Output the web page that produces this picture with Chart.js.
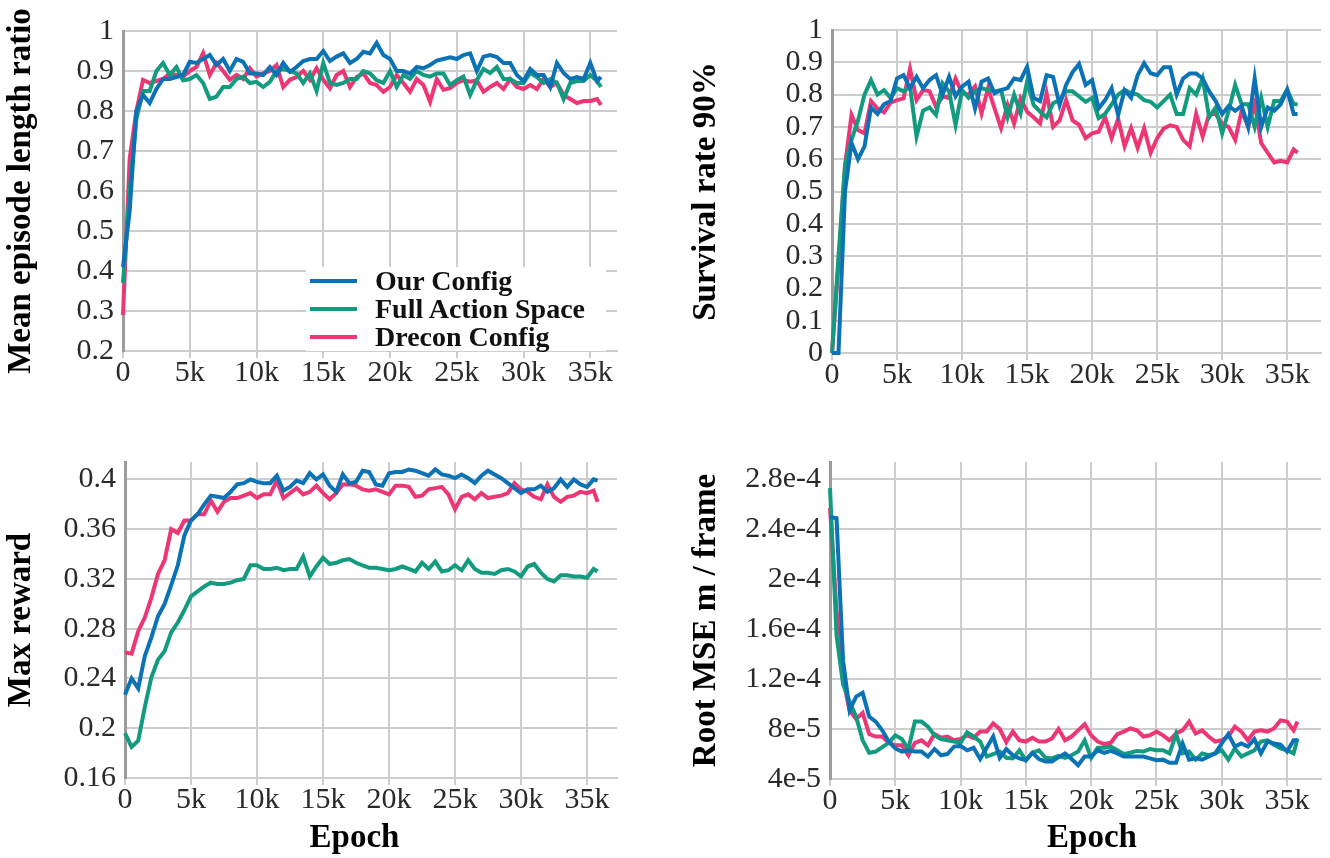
<!DOCTYPE html>
<html lang="en">
<head>
    <meta charset="UTF-8">
    <title>Training curves</title>
    <script src="https://cdn.jsdelivr.net/npm/chart.js"></script>
    <style>
        body {
            margin: 0;
            background: #fff;
        }
        #wrap {
            position: relative;
            width: 1330px;
            height: 858px;
        }
        canvas {
            position: absolute;
        }
        #legend {
            position: absolute;
            left: 306px;
            top: 267px;
            width: 300px;
            height: 84px;
            background: #fff;
            font: bold 28px 'Liberation Serif', serif;
            color: #111;
        }
        .row {
            height: 28px;
            display: flex;
            align-items: center;
        }
        .swatch {
            display: inline-block;
            width: 47px;
            height: 4px;
            margin: 0 18px 0 4px;
        }
    </style>
</head>
<body>
<div id="wrap">
    <canvas id="lenChart" width="665" height="420" style="left:0;top:0"></canvas>
    <canvas id="survChart" width="665" height="420" style="left:665px;top:0"></canvas>
    <canvas id="rewardChart" width="665" height="438" style="left:0;top:420px"></canvas>
    <canvas id="rmseChart" width="665" height="438" style="left:665px;top:420px"></canvas>
    <div id="legend"></div>
</div>

<script>
    // epochs of each logged point
    const epochs = [
        0, 500, 1000, 1500, 2000, 2500, 3000, 3500, 4000, 4500,
        5000, 5500, 6000, 6500, 7000, 7500, 8000, 8500, 9000, 9500,
        10000, 10500, 11000, 11500, 12000, 12500, 13000, 13500, 14000, 14500,
        15000, 15500, 16000, 16500, 17000, 17500, 18000, 18500, 19000, 19500,
        20000, 20500, 21000, 21500, 22000, 22500, 23000, 23500, 24000, 24500,
        25000, 25500, 26000, 26500, 27000, 27500, 28000, 28500, 29000, 29500,
        30000, 30500, 31000, 31500, 32000, 32500, 33000, 33500, 34000, 34500,
        35000, 35500, 35800
    ];
    const seriesNames = ['Our Config', 'Full Action Space', 'Drecon Config'];

    const xTicks = [0, 5000, 10000, 15000, 20000, 25000, 30000, 35000];
    const xTickLabels = ['0', '5k', '10k', '15k', '20k', '25k', '30k', '35k'];

    // Mean episode length ratio
    const lenOur = [
        0.41, 0.55, 0.80, 0.84, 0.82, 0.855, 0.88, 0.88, 0.885, 0.89,
        0.923, 0.92, 0.93, 0.94, 0.915, 0.93, 0.90, 0.93, 0.923, 0.894,
        0.894, 0.89, 0.91, 0.89, 0.92, 0.898, 0.91, 0.925, 0.93, 0.93,
        0.95, 0.925, 0.936, 0.944, 0.92, 0.93, 0.948, 0.944, 0.97, 0.94,
        0.93, 0.90, 0.90, 0.893, 0.91, 0.907, 0.915, 0.926, 0.93, 0.934,
        0.93, 0.94, 0.944, 0.90, 0.936, 0.94, 0.935, 0.92, 0.92, 0.89,
        0.875, 0.905, 0.89, 0.89, 0.86, 0.92, 0.895, 0.88, 0.885, 0.88,
        0.92, 0.875, 0.885
    ];
    const lenFull = [
        0.37, 0.6, 0.78, 0.85, 0.85, 0.9, 0.92, 0.89, 0.91, 0.877,
        0.88, 0.89, 0.87, 0.83, 0.836, 0.86, 0.86, 0.88, 0.886, 0.87,
        0.873, 0.86, 0.873, 0.9, 0.905, 0.9, 0.894, 0.87, 0.894, 0.85,
        0.92, 0.87, 0.865, 0.87, 0.88, 0.88, 0.9, 0.894, 0.877, 0.87,
        0.9, 0.86, 0.89, 0.88, 0.9, 0.89, 0.886, 0.894, 0.894, 0.865,
        0.877, 0.886, 0.84, 0.877, 0.905, 0.895, 0.91, 0.88, 0.88, 0.87,
        0.87, 0.895, 0.885, 0.87, 0.88, 0.87, 0.83, 0.87, 0.875, 0.875,
        0.89, 0.875, 0.86
    ];
    const lenDrecon = [
        0.29, 0.68, 0.80, 0.878, 0.87, 0.875, 0.88, 0.894, 0.89, 0.886,
        0.9, 0.91, 0.945, 0.89, 0.92, 0.9, 0.878, 0.89, 0.88, 0.907,
        0.886, 0.894, 0.9, 0.915, 0.86, 0.878, 0.885, 0.9, 0.878, 0.907,
        0.878, 0.857, 0.89, 0.9, 0.86, 0.885, 0.894, 0.87, 0.865, 0.848,
        0.86, 0.89, 0.87, 0.848, 0.88, 0.865, 0.823, 0.88, 0.853, 0.857,
        0.87, 0.877, 0.873, 0.877, 0.848, 0.86, 0.87, 0.855, 0.88, 0.86,
        0.855, 0.865, 0.855, 0.88, 0.86, 0.87, 0.84, 0.83, 0.82, 0.825,
        0.825, 0.83, 0.815
    ];
    const lenTicks = [0.2, 0.3, 0.4, 0.5, 0.6, 0.7, 0.8, 0.9, 1];
    const lenTickLabels = ['0.2', '0.3', '0.4', '0.5', '0.6', '0.7', '0.8', '0.9', '1'];

    // Survival rate 90%
    const survOur = [
        0, 0, 0.5, 0.65, 0.6, 0.64, 0.76, 0.74, 0.77, 0.78,
        0.85, 0.86, 0.82, 0.855, 0.82, 0.845, 0.86, 0.8, 0.855, 0.795,
        0.825, 0.84, 0.757, 0.84, 0.85, 0.804, 0.814, 0.82, 0.85, 0.845,
        0.886, 0.79, 0.78, 0.86, 0.855, 0.768, 0.83, 0.87, 0.895, 0.83,
        0.845, 0.757, 0.783, 0.82, 0.737, 0.814, 0.79, 0.86, 0.897, 0.866,
        0.86, 0.885, 0.885, 0.8, 0.85, 0.865, 0.865, 0.85, 0.81, 0.78,
        0.74, 0.765, 0.75, 0.765, 0.7, 0.85, 0.7, 0.76, 0.75, 0.77,
        0.815, 0.74, 0.74
    ];
    const survFull = [
        0, 0.3, 0.58, 0.66, 0.72, 0.8, 0.845, 0.8, 0.814, 0.79,
        0.82, 0.81, 0.825, 0.67, 0.75, 0.76, 0.737, 0.835, 0.81, 0.706,
        0.814, 0.79, 0.81, 0.82, 0.814, 0.81, 0.814, 0.73, 0.8, 0.742,
        0.84, 0.768, 0.747, 0.73, 0.773, 0.783, 0.81, 0.81, 0.794, 0.778,
        0.79, 0.727, 0.74, 0.77, 0.8, 0.814, 0.805, 0.8, 0.783, 0.778,
        0.76, 0.78, 0.8, 0.74, 0.74, 0.82, 0.8, 0.85, 0.73, 0.76,
        0.68, 0.75, 0.83, 0.77, 0.77, 0.7, 0.79, 0.7, 0.78, 0.78,
        0.815, 0.77, 0.77
    ];
    const survDrecon = [
        0, 0.28, 0.58, 0.737, 0.69, 0.68, 0.78, 0.757, 0.745, 0.775,
        0.783, 0.788, 0.88, 0.783, 0.814, 0.81, 0.762, 0.794, 0.79, 0.85,
        0.804, 0.8, 0.825, 0.742, 0.82, 0.757, 0.696, 0.768, 0.71, 0.788,
        0.747, 0.73, 0.711, 0.804, 0.7, 0.72, 0.783, 0.72, 0.706, 0.665,
        0.68, 0.685, 0.73, 0.665, 0.725, 0.64, 0.696, 0.635, 0.696, 0.62,
        0.665, 0.695, 0.705, 0.7, 0.66, 0.64, 0.74, 0.67, 0.74, 0.74,
        0.71, 0.7, 0.66, 0.75, 0.7, 0.77, 0.65, 0.62, 0.59, 0.595,
        0.59, 0.63, 0.62
    ];
    const survTicks = [0, 0.1, 0.2, 0.3, 0.4, 0.5, 0.6, 0.7, 0.8, 0.9, 1];
    const survTickLabels = ['0', '0.1', '0.2', '0.3', '0.4', '0.5', '0.6', '0.7', '0.8', '0.9', '1'];

    // Max reward
    const rewardOur = [
        0.227, 0.24, 0.232, 0.258, 0.273, 0.29, 0.3, 0.315, 0.331, 0.355,
        0.367, 0.372, 0.38, 0.387, 0.386, 0.385, 0.39, 0.396, 0.397, 0.4,
        0.398, 0.397, 0.397, 0.403, 0.391, 0.394, 0.399, 0.397, 0.405, 0.4,
        0.404, 0.395, 0.39, 0.404, 0.397, 0.398, 0.407, 0.406, 0.396, 0.395,
        0.405, 0.406, 0.406, 0.408, 0.407, 0.405, 0.403, 0.408, 0.404, 0.403,
        0.401, 0.404, 0.401, 0.397, 0.403, 0.407, 0.404, 0.401, 0.397, 0.393,
        0.389, 0.392, 0.392, 0.395, 0.39, 0.393, 0.4, 0.394, 0.4, 0.396,
        0.394, 0.4, 0.399
    ];
    const rewardFull = [
        0.196, 0.185, 0.19, 0.217, 0.241, 0.255, 0.262, 0.277, 0.285, 0.295,
        0.306, 0.31, 0.314, 0.317, 0.316, 0.316, 0.317, 0.319, 0.32, 0.331,
        0.331, 0.328, 0.328, 0.329, 0.327, 0.328, 0.328, 0.338, 0.322, 0.33,
        0.337, 0.332, 0.333, 0.335, 0.336, 0.333, 0.331, 0.329, 0.329, 0.328,
        0.327, 0.328, 0.33, 0.328, 0.326, 0.333, 0.328, 0.334, 0.326, 0.327,
        0.331, 0.327, 0.335, 0.328, 0.325, 0.325, 0.324, 0.327, 0.328, 0.326,
        0.322, 0.33, 0.332, 0.325, 0.32, 0.318, 0.323, 0.323, 0.322, 0.322,
        0.321, 0.328, 0.326
    ];
    const rewardDrecon = [
        0.261, 0.26, 0.278, 0.289, 0.305, 0.324, 0.335, 0.36, 0.357, 0.367,
        0.367, 0.372, 0.372, 0.383, 0.374, 0.382, 0.385, 0.385, 0.387, 0.389,
        0.385, 0.388, 0.388, 0.399, 0.385, 0.389, 0.393, 0.388, 0.39, 0.395,
        0.389, 0.384, 0.389, 0.396, 0.396, 0.395, 0.392, 0.391, 0.392, 0.39,
        0.388, 0.395, 0.395, 0.394, 0.386, 0.387, 0.392, 0.393, 0.394, 0.388,
        0.376, 0.386, 0.388, 0.384, 0.389, 0.385, 0.386, 0.387, 0.389, 0.397,
        0.392, 0.39, 0.386, 0.384, 0.396, 0.386, 0.382, 0.386, 0.387, 0.39,
        0.389, 0.391, 0.382
    ];
    const rewardTicks = [0.16, 0.2, 0.24, 0.28, 0.32, 0.36, 0.4];
    const rewardTickLabels = ['0.16', '0.2', '0.24', '0.28', '0.32', '0.36', '0.4'];

    // Root MSE m / frame
    const rmseOur = [
        25.0e-5, 24.9e-5, 13.5e-5, 9.5e-5, 10.6e-5, 10.9e-5, 9.0e-5, 8.6e-5, 7.9e-5, 7.0e-5,
        6.45e-5, 6.2e-5, 6.3e-5, 6.2e-5, 6.2e-5, 5.8e-5, 6.4e-5, 5.9e-5, 6.0e-5, 6.6e-5,
        6.65e-5, 6.3e-5, 6.5e-5, 5.6e-5, 6.5e-5, 7.4e-5, 5.7e-5, 6.4e-5, 5.9e-5, 5.65e-5,
        5.5e-5, 6.1e-5, 5.6e-5, 5.4e-5, 5.4e-5, 5.75e-5, 6.05e-5, 5.6e-5, 5.1e-5, 5.8e-5,
        5.8e-5, 6.3e-5, 6.1e-5, 6.25e-5, 6.05e-5, 5.8e-5, 5.8e-5, 5.8e-5, 5.8e-5, 5.65e-5,
        5.5e-5, 5.55e-5, 5.3e-5, 5.3e-5, 6.85e-5, 5.55e-5, 5.65e-5, 5.55e-5, 5.8e-5, 6.05e-5,
        6.85e-5, 7.6e-5, 6.6e-5, 6.85e-5, 6.6e-5, 7.2e-5, 6.05e-5, 7.0e-5, 6.85e-5, 6.75e-5,
        6.2e-5, 7.1e-5, 7.1e-5
    ];
    const rmseFull = [
        27.3e-5, 15.5e-5, 11.6e-5, 10.2e-5, 9.0e-5, 7.1e-5, 6.1e-5, 6.2e-5, 6.55e-5, 6.9e-5,
        7.5e-5, 7.2e-5, 6.4e-5, 8.6e-5, 8.6e-5, 8.2e-5, 7.5e-5, 7.2e-5, 7.1e-5, 7.0e-5,
        6.9e-5, 7.75e-5, 7.4e-5, 7.0e-5, 5.8e-5, 6.0e-5, 6.2e-5, 5.7e-5, 5.65e-5, 6.3e-5,
        5.5e-5, 6.1e-5, 6.3e-5, 5.7e-5, 5.65e-5, 5.85e-5, 5.7e-5, 5.9e-5, 6.2e-5, 7.1e-5,
        5.7e-5, 6.5e-5, 6.5e-5, 6.6e-5, 6.3e-5, 6.0e-5, 6.1e-5, 6.25e-5, 6.2e-5, 6.4e-5,
        6.3e-5, 6.3e-5, 6.05e-5, 7.6e-5, 6.05e-5, 6.2e-5, 5.55e-5, 6.05e-5, 5.9e-5, 6.05e-5,
        6.3e-5, 5.55e-5, 6.45e-5, 5.8e-5, 6.05e-5, 6.3e-5, 7.0e-5, 7.1e-5, 6.75e-5, 6.45e-5,
        6.3e-5, 6.05e-5, 7.25e-5
    ];
    const rmseDrecon = [
        25.7e-5, 17.5e-5, 12.0e-5, 9.5e-5, 8.8e-5, 9.3e-5, 7.6e-5, 7.4e-5, 7.4e-5, 6.9e-5,
        6.7e-5, 6.7e-5, 5.9e-5, 6.9e-5, 7.1e-5, 6.7e-5, 7.6e-5, 7.3e-5, 7.4e-5, 7.1e-5,
        7.2e-5, 7.5e-5, 7.3e-5, 7.8e-5, 7.8e-5, 8.45e-5, 8.0e-5, 6.95e-5, 7.8e-5, 7.1e-5,
        7.0e-5, 7.3e-5, 7.0e-5, 7.0e-5, 7.25e-5, 8.0e-5, 7.1e-5, 7.4e-5, 7.9e-5, 8.4e-5,
        7.5e-5, 7.0e-5, 6.8e-5, 6.9e-5, 7.6e-5, 7.8e-5, 8.05e-5, 7.9e-5, 7.4e-5, 7.5e-5,
        7.8e-5, 7.5e-5, 7.1e-5, 7.65e-5, 7.9e-5, 8.6e-5, 7.65e-5, 7.9e-5, 7.4e-5, 7.0e-5,
        7.1e-5, 7.4e-5, 8.2e-5, 7.8e-5, 7.1e-5, 7.8e-5, 7.9e-5, 7.8e-5, 8.05e-5, 8.7e-5,
        8.6e-5, 7.9e-5, 8.6e-5
    ];
    const rmseTicks = [4e-5, 8e-5, 1.2e-4, 1.6e-4, 2e-4, 2.4e-4, 2.8e-4];
    const rmseTickLabels = ['4e-5', '8e-5', '1.2e-4', '1.6e-4', '2e-4', '2.4e-4', '2.8e-4'];

    const COLORS = ['#0b72b6', '#139b80', '#ec3675'];
    const FONT = "'Liberation Serif', 'Times New Roman', serif";
    const GRID = '#cdcdcd';

    Chart.defaults.font.family = FONT;

    function points(values) {
        return epochs.map((e, i) => ({ x: e, y: values[i] }));
    }

    function makePanel(id, p) {
        const datasets = p.series.map((vals, i) => ({
            label: seriesNames[i],
            data: points(vals),
            borderColor: COLORS[i],
            backgroundColor: COLORS[i],
            borderWidth: 4,
            pointRadius: 0,
            tension: 0,
            fill: false,
            clip: 6
        }));

        return new Chart(document.getElementById(id), {
            type: 'line',
            data: { datasets: datasets },
            options: {
                responsive: false,
                animation: false,
                devicePixelRatio: 1,
                layout: { padding: p.padding },
                plugins: {
                    legend: { display: false },
                    tooltip: { enabled: false }
                },
                scales: {
                    x: {
                        type: 'linear',
                        min: 0,
                        max: p.xMax,
                        afterBuildTicks: s => { s.ticks = xTicks.map(v => ({ value: v })); },
                        afterFit: s => { s.height = p.xHeight; },
                        grid: { color: GRID, lineWidth: 2, drawTicks: true, tickLength: 7 },
                        border: { display: true, color: GRID, width: 2 },
                        ticks: {
                            maxRotation: 0,
                            autoSkip: false,
                            padding: -3,
                            color: '#2a2a2a',
                            font: { family: FONT, size: 30 },
                            callback: (v, i) => xTickLabels[i]
                        },
                        title: {
                            display: !!p.xTitle,
                            text: p.xTitle || '',
                            color: '#000',
                            padding: { top: 0, bottom: 0 },
                            font: { family: FONT, size: 33, weight: 'bold' }
                        }
                    },
                    y: {
                        type: 'linear',
                        min: p.yMin,
                        max: p.yMax,
                        afterBuildTicks: s => { s.ticks = p.yTicks.map(v => ({ value: v })); },
                        afterFit: s => { s.width = p.yWidth; },
                        grid: { color: GRID, lineWidth: 2, drawTicks: false },
                        border: { display: true, color: '#9c9c9c', width: 3 },
                        ticks: {
                            padding: 9,
                            autoSkip: false,
                            color: '#2a2a2a',
                            font: { family: FONT, size: 30 },
                            callback: (v, i) => p.yTickLabels[i]
                        },
                        title: {
                            display: true,
                            text: p.yTitle,
                            color: '#000',
                            padding: { top: 2, bottom: 0 },
                            font: { family: FONT, size: 33, weight: 'bold' }
                        }
                    }
                }
            }
        });
    }

    makePanel('lenChart', {
        series: [lenOur, lenFull, lenDrecon],
        yMin: 0.2, yMax: 1, yTicks: lenTicks, yTickLabels: lenTickLabels,
        yTitle: 'Mean episode length ratio',
        xMax: 37000,
        padding: { top: 31, right: 48, bottom: 0, left: 0 },
        yWidth: 123, xHeight: 69
    });

    makePanel('survChart', {
        series: [survOur, survFull, survDrecon],
        yMin: 0, yMax: 1, yTicks: survTicks, yTickLabels: survTickLabels,
        yTitle: 'Survival rate 90%',
        xMax: 37600,
        padding: { top: 30, right: 9, bottom: 0, left: 20 },
        yWidth: 147, xHeight: 67
    });

    makePanel('rewardChart', {
        series: [rewardOur, rewardFull, rewardDrecon],
        yMin: 0.16, yMax: 0.414, yTicks: rewardTicks, yTickLabels: rewardTickLabels,
        yTitle: 'Max reward',
        xTitle: 'Epoch    ',
        xMax: 37270,
        padding: { top: 42, right: 48, bottom: 0, left: 0 },
        yWidth: 125, xHeight: 80
    });

    makePanel('rmseChart', {
        series: [rmseOur, rmseFull, rmseDrecon],
        yMin: 4e-5, yMax: 2.94e-4, yTicks: rmseTicks, yTickLabels: rmseTickLabels,
        yTitle: 'Root MSE m / frame',
        xTitle: '    Epoch',
        xMax: 37600,
        padding: { top: 42, right: 9, bottom: 0, left: 20 },
        yWidth: 145, xHeight: 79
    });

    // legend drawn as html over the first panel
    const legend = document.getElementById('legend');
    seriesNames.forEach((name, i) => {
        const row = document.createElement('div');
        row.className = 'row';
        const sw = document.createElement('span');
        sw.className = 'swatch';
        sw.style.background = COLORS[i];
        row.appendChild(sw);
        row.appendChild(document.createTextNode(name));
        legend.appendChild(row);
    });
</script>
</body>
</html>
